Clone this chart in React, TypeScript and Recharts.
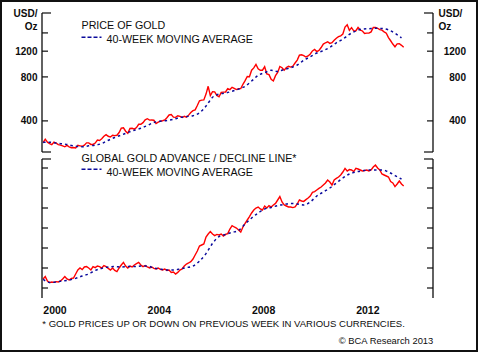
import React from 'react';
import { LineChart, Line, XAxis, YAxis } from 'recharts';

const FONT = '"Liberation Sans", Arial, Helvetica, sans-serif';
const INK = '#0d0d0d';
const RED = '#ff0000';
const BLUE = '#0a0a9c';

// Monthly gold price, USD/oz, Jan 2000 .. Nov 2013
const GOLD_PRICE = [
  284, 300, 286, 280, 275, 286, 282, 275, 273, 270, 266, 272,
  266, 262, 263, 261, 272, 270, 268, 273, 283, 283, 276, 276,
  282, 296, 294, 302, 314, 322, 314, 310, 319, 317, 319, 333,
  357, 359, 340, 329, 355, 356, 351, 360, 379, 379, 389, 407,
  414, 405, 406, 404, 384, 392, 398, 401, 406, 420, 439, 442,
  424, 423, 434, 429, 422, 430, 424, 438, 456, 470, 476, 510,
  549, 555, 557, 610, 690, 596, 633, 632, 598, 585, 627, 629,
  631, 665, 655, 679, 667, 655, 665, 665, 712, 754, 806, 803,
  889, 922, 975, 909, 888, 889, 939, 839, 829, 770, 750, 816,
  858, 943, 924, 890, 928, 946, 934, 949, 996, 1043, 1127, 1134,
  1118, 1095, 1113, 1148, 1205, 1232, 1193, 1215, 1271, 1343, 1370, 1391,
  1356, 1372, 1424, 1473, 1510, 1529, 1572, 1756, 1820, 1666, 1739, 1652,
  1656, 1743, 1674, 1650, 1585, 1596, 1594, 1626, 1744, 1747, 1722, 1685,
  1671, 1628, 1593, 1487, 1414, 1343, 1286, 1347, 1349, 1316, 1275,
];

// 40-week moving average of gold, quarterly readings (Jan, Apr, Jul, Oct)
const GOLD_MA = [
  285, 286, 282, 279,
  274, 268, 266, 270,
  273, 280, 295, 308,
  320, 333, 345, 356,
  372, 390, 398, 402,
  410, 422, 428, 434,
  455, 505, 580, 610,
  620, 638, 660, 690,
  750, 820, 855, 888,
  872, 900, 925, 965,
  1040, 1100, 1165, 1210,
  1275, 1370, 1450, 1565,
  1650, 1700, 1710, 1720,
  1715, 1680, 1590, 1480,
];

// Global gold advance / decline line (index units), monthly
const AD_LINE = [
  1.45, 1.57, 1.35, 1.27, 1.3, 1.28, 1.32, 1.3, 1.35, 1.45, 1.57, 1.45,
  1.4, 1.48, 1.5, 1.7, 1.9, 2.0, 1.92, 2.05, 2.07, 2.0, 1.9, 2.07,
  2.02, 2.1, 2.07, 2.0, 2.12, 2.07, 1.98, 1.9, 2.0, 1.88, 1.82, 2.0,
  2.15, 2.28, 2.1, 2.0, 2.1, 2.05, 2.15, 2.22, 2.28, 2.15, 2.07, 2.12,
  2.05, 2.0, 2.05, 1.98, 1.95, 2.0, 1.93, 1.9, 1.95, 1.88, 1.9, 1.78,
  1.8, 1.7, 1.78, 1.9, 1.95, 2.1, 2.2, 2.25, 2.32, 2.45, 2.65, 2.85,
  3.1, 3.15, 3.2, 3.55, 3.7, 3.82, 3.7, 3.62, 3.68, 3.65, 3.7, 3.6,
  3.68, 3.72, 3.95, 4.12, 4.05, 4.0, 3.9, 3.8, 4.05, 4.23, 4.4, 4.57,
  4.75, 4.9, 5.0, 5.05, 4.95, 4.9, 5.1, 5.0, 5.12, 5.05, 5.15, 5.23,
  5.4, 5.57, 5.3, 5.15, 5.1, 5.05, 5.05, 5.02, 5.05, 5.2, 5.4, 5.35,
  5.33, 5.42, 5.5, 5.6, 5.78, 5.82, 5.9, 5.98, 6.05, 6.15, 6.25, 6.4,
  6.3, 6.15, 6.4, 6.48, 6.55, 6.65, 6.8, 6.98, 6.85, 6.92, 6.9, 6.82,
  6.98, 6.95, 6.9, 6.85, 6.87, 6.9, 6.85, 6.9, 7.05, 7.15, 7.0, 6.9,
  6.7, 6.65, 6.6, 6.55, 6.32, 6.25, 6.07, 6.2, 6.35, 6.2, 6.1,
];

// 40-week moving average of the A/D line, quarterly readings
const AD_MA = [
  1.43, 1.28, 1.3, 1.35,
  1.4, 1.48, 1.6, 1.7,
  1.88, 1.98, 2.05, 2.07,
  2.05, 2.07, 2.07, 2.1,
  2.1, 2.0, 1.95, 1.9,
  1.9, 1.95, 2.02, 2.1,
  2.35, 2.72, 3.23, 3.57,
  3.68, 3.78, 3.88, 4.2,
  4.5, 4.75, 4.95, 5.03,
  5.12, 5.18, 5.23, 5.2,
  5.15, 5.3, 5.6, 5.8,
  6.0, 6.25, 6.5, 6.7,
  6.8, 6.86, 6.9, 6.9,
  6.9, 6.8, 6.62, 6.45,
];

const START_YEAR = 2000;
const YEAR_TICKS = [2000, 2001, 2002, 2003, 2004, 2005, 2006, 2007, 2008, 2009, 2010, 2011, 2012, 2013, 2014, 2015];
const YEAR_LABELS = [2000.5, 2004.5, 2008.5, 2012.5];
const X_DOMAIN: [number, number] = [2000, 2015];

const GOLD_DOMAIN: [number, number] = [245, 2190];
const GOLD_TICKS = [245, 400, 800, 1200, 1600, 2190];
const GOLD_LABELED = [400, 800, 1200];

const AD_DOMAIN: [number, number] = [0.5, 7.45];
const AD_TICKS = [1, 2, 3, 4, 5, 6, 7, 7.45];

const TITLE_TOP = 'PRICE OF GOLD';
const TITLE_BOTTOM = 'GLOBAL GOLD ADVANCE / DECLINE LINE*';
const LEGEND_MA = '40-WEEK MOVING AVERAGE';
const FOOTNOTE = '* GOLD PRICES UP OR DOWN ON PREVIOUS WEEK IN VARIOUS CURRENCIES.';
const SOURCE = '\u00A9 BCA Research 2013';

const monthly = (vals: number[]) => vals.map((v, i) => ({ t: START_YEAR + (i + 0.5) / 12, v }));
const quarterly = (vals: number[]) => vals.map((v, i) => ({ t: START_YEAR + (i * 3 + 0.5) / 12, v }));

const goldData = monthly(GOLD_PRICE);
const goldMaData = quarterly(GOLD_MA);
const adData = monthly(AD_LINE);
const adMaData = quarterly(AD_MA);

const makeYTick = (side: 'left' | 'right', domain: [number, number], labeled: number[], unit: boolean) =>
  (props: any) => {
    const { x, y, payload } = props;
    const v = payload.value;
    const dir = side === 'left' ? 1 : -1;
    const isEnd = v === domain[0] || v === domain[1];
    const len = isEnd ? 9 : 6;
    const labelX = side === 'left' ? x - 4.5 : x + 33;
    const unitX = side === 'left' ? x - 4.5 : x + 5.5;
    return (
      <g>
        <line x1={x} y1={y} x2={x + dir * len} y2={y} stroke={INK} strokeWidth={1.2} />
        {labeled.includes(v) && (
          <text x={labelX} y={y} dy={3.6} textAnchor="end" fontFamily={FONT} fontSize={10} fontWeight="bold" fill={INK}>
            {v}
          </text>
        )}
        {unit && v === domain[1] && (
          <text
            x={unitX}
            y={y}
            textAnchor={side === 'left' ? 'end' : 'start'}
            fontFamily={FONT}
            fontSize={10}
            fontWeight="bold"
            fill={INK}
          >
            <tspan x={unitX} dy={3.6}>USD/</tspan>
            <tspan x={unitX} dy={13}>Oz</tspan>
          </text>
        )}
      </g>
    );
  };

const yearTick = (props: any) => {
  const { x, y } = props;
  return <line x1={x} y1={y} x2={x} y2={y - 7} stroke={INK} strokeWidth={1.2} />;
};

const yearLabel = (props: any) => {
  const { x, y, payload } = props;
  return (
    <text x={x} y={y} dy={15.5} textAnchor="middle" fontFamily={FONT} fontSize={10.5} fontWeight="bold" fill={INK}>
      {Math.floor(payload.value)}
    </text>
  );
};

const axisLine = { stroke: INK, strokeWidth: 1.3 };

export default function App() {
  return (
    <div style={{ position: 'absolute', left: 0, top: 0, width: 478, height: 352, background: '#fff', overflow: 'hidden' }}>
      <div style={{ position: 'absolute', left: 0, top: 0, width: 478, height: 352, boxSizing: 'border-box', border: '2px solid #111' }} />
      <div style={{ position: 'absolute', left: 0, top: 0 }}>
        <LineChart width={478} height={160} margin={{ top: 13, right: 0, bottom: 8, left: 0 }}>
          <XAxis
            xAxisId="top"
            orientation="top"
            type="number"
            dataKey="t"
            domain={X_DOMAIN}
            allowDataOverflow
            height={0}
            tick={false}
            tickLine={false}
            axisLine={axisLine}
          />
          <YAxis
            yAxisId="l"
            orientation="left"
            width={42}
            scale="log"
            domain={GOLD_DOMAIN}
            allowDataOverflow
            ticks={GOLD_TICKS}
            interval={0}
            tickSize={0}
            tickMargin={0}
            tickLine={false}
            axisLine={axisLine}
            tick={makeYTick('left', GOLD_DOMAIN, GOLD_LABELED, true)}
          />
          <YAxis
            yAxisId="r"
            orientation="right"
            width={45}
            scale="log"
            domain={GOLD_DOMAIN}
            allowDataOverflow
            ticks={GOLD_TICKS}
            interval={0}
            tickSize={0}
            tickMargin={0}
            tickLine={false}
            axisLine={axisLine}
            tick={makeYTick('right', GOLD_DOMAIN, GOLD_LABELED, true)}
          />
          <Line
            xAxisId="top"
            yAxisId="l"
            data={goldData}
            dataKey="v"
            type="linear"
            stroke={RED}
            strokeWidth={1.4}
            dot={false}
            isAnimationActive={false}
          />
          <Line
            xAxisId="top"
            yAxisId="l"
            data={goldMaData}
            dataKey="v"
            type="monotone"
            stroke={BLUE}
            strokeWidth={1.5}
            strokeDasharray="2.5 3"
            dot={false}
            isAnimationActive={false}
          />
        </LineChart>
      </div>
      <div style={{ position: 'absolute', left: 0, top: 0 }}>
        <LineChart width={478} height={352} margin={{ top: 159, right: 0, bottom: 34, left: 0 }}>
          <XAxis
            xAxisId="yrs"
            orientation="bottom"
            type="number"
            dataKey="t"
            domain={X_DOMAIN}
            allowDataOverflow
            ticks={YEAR_TICKS}
            interval={0}
            height={0}
            tickSize={0}
            tickMargin={0}
            tickLine={false}
            axisLine={axisLine}
            tick={yearTick}
          />
          <XAxis
            xAxisId="lbl"
            orientation="bottom"
            type="number"
            dataKey="t"
            domain={X_DOMAIN}
            allowDataOverflow
            ticks={YEAR_LABELS}
            interval={0}
            height={20}
            tickSize={0}
            tickMargin={0}
            tickLine={false}
            axisLine={false}
            tick={yearLabel}
          />
          <YAxis
            yAxisId="l"
            orientation="left"
            width={42}
            type="number"
            domain={AD_DOMAIN}
            allowDataOverflow
            ticks={AD_TICKS}
            interval={0}
            tickSize={0}
            tickMargin={0}
            tickLine={false}
            axisLine={axisLine}
            tick={makeYTick('left', AD_DOMAIN, [], false)}
          />
          <YAxis
            yAxisId="r"
            orientation="right"
            width={45}
            type="number"
            domain={AD_DOMAIN}
            allowDataOverflow
            ticks={AD_TICKS}
            interval={0}
            tickSize={0}
            tickMargin={0}
            tickLine={false}
            axisLine={axisLine}
            tick={makeYTick('right', AD_DOMAIN, [], false)}
          />
          <Line
            xAxisId="yrs"
            yAxisId="l"
            data={adData}
            dataKey="v"
            type="linear"
            stroke={RED}
            strokeWidth={1.4}
            dot={false}
            isAnimationActive={false}
          />
          <Line
            xAxisId="yrs"
            yAxisId="l"
            data={adMaData}
            dataKey="v"
            type="monotone"
            stroke={BLUE}
            strokeWidth={1.5}
            strokeDasharray="2.5 3"
            dot={false}
            isAnimationActive={false}
          />
        </LineChart>
      </div>
      <svg
        width={478}
        height={352}
        style={{ position: 'absolute', left: 0, top: 0, pointerEvents: 'none' }}
        fontFamily={FONT}
      >
        <text x={81.5} y={29.3} fontSize={10.7} fill={INK}>{TITLE_TOP}</text>
        <line x1={81.5} y1={37.3} x2={101.5} y2={37.3} stroke={BLUE} strokeWidth={1.4} strokeDasharray="4 2" />
        <text x={106.5} y={42.7} fontSize={10.7} fill={INK}>{LEGEND_MA}</text>
        <text x={81.5} y={162} fontSize={10.7} fill={INK}>{TITLE_BOTTOM}</text>
        <line x1={81.5} y1={169.3} x2={101.5} y2={169.3} stroke={BLUE} strokeWidth={1.4} strokeDasharray="4 2" />
        <text x={106.5} y={176} fontSize={10.7} fill={INK}>{LEGEND_MA}</text>
        <text x={42.3} y={326.8} fontSize={9.55} fill={INK}>{FOOTNOTE}</text>
        <text x={433.3} y={343.8} fontSize={9.4} fill={INK} textAnchor="end">{SOURCE}</text>
      </svg>
    </div>
  );
}
